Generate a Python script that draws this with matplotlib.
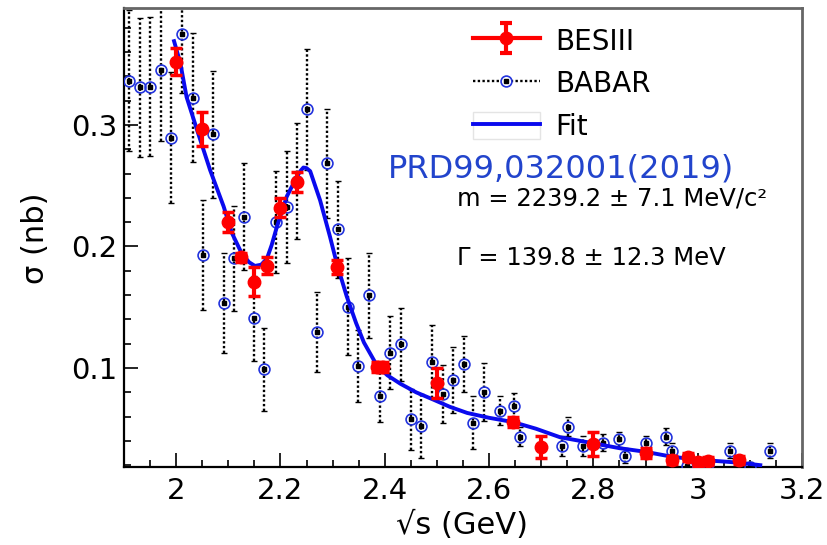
import numpy as np
import matplotlib
matplotlib.use("Agg")
import matplotlib.pyplot as plt
from matplotlib.lines import Line2D
from matplotlib.patches import Rectangle
from matplotlib.path import Path
from matplotlib.legend_handler import HandlerTuple

plt.rcParams['font.family'] = ['DejaVu Sans']

# BESIII points
bes_x = [2.000, 2.050, 2.100, 2.125, 2.150, 2.175, 2.200, 2.232, 2.309, 2.386, 2.396,
         2.500, 2.645, 2.700, 2.800, 2.900, 2.950, 2.981, 3.000, 3.020, 3.080]
bes_y = [0.352, 0.297, 0.220, 0.191, 0.171, 0.184, 0.232, 0.253, 0.183, 0.101, 0.101,
         0.0877, 0.0556, 0.035, 0.0375, 0.030, 0.0243, 0.0267, 0.0226, 0.0235, 0.0243]
bes_err = [0.011, 0.014, 0.008, 0.004, 0.012, 0.007, 0.008, 0.008, 0.006, 0.004, 0.004,
           0.012, 0.004, 0.009, 0.010, 0.004, 0.003, 0.003, 0.003, 0.003, 0.003]

# BABAR points
babar_x = [1.910, 1.930, 1.950, 1.971, 1.990, 2.011, 2.032, 2.051, 2.071, 2.091,
           2.110, 2.130, 2.150, 2.169, 2.191, 2.212, 2.231, 2.250, 2.270, 2.290,
           2.311, 2.329, 2.349, 2.370, 2.391, 2.410, 2.431, 2.450, 2.469, 2.490,
           2.512, 2.531, 2.551, 2.570, 2.590, 2.621, 2.648, 2.659, 2.740, 2.752,
           2.780, 2.819, 2.850, 2.861, 2.900, 2.939, 2.950, 2.979, 3.020, 3.061,
           3.100, 3.139]
babar_y = [0.3365, 0.331, 0.3315, 0.345, 0.2895, 0.3746, 0.3225, 0.193, 0.2923, 0.1537,
           0.1903, 0.2245, 0.1409, 0.0989, 0.2204, 0.2323, 0.254, 0.3129, 0.1299, 0.2685,
           0.2142, 0.1505, 0.1016, 0.160, 0.0772, 0.1126, 0.1195, 0.0578, 0.0523, 0.1052,
           0.0784, 0.0901, 0.1030, 0.055, 0.0805, 0.0649, 0.0687, 0.0435, 0.0358, 0.0517,
           0.0358, 0.0385, 0.0413, 0.0278, 0.0380, 0.0434, 0.0319, 0.0196, 0.0210, 0.0319,
           0.0188, 0.0319]
babar_err = [0.058, 0.057, 0.057, 0.058, 0.054, 0.048, 0.053, 0.045, 0.052, 0.041,
             0.043, 0.044, 0.035, 0.034, 0.042, 0.046, 0.048, 0.05, 0.033, 0.045,
             0.04, 0.04, 0.03, 0.035, 0.022, 0.03, 0.03, 0.025, 0.026, 0.03,
             0.024, 0.027, 0.023, 0.022, 0.024, 0.012, 0.011, 0.008, 0.008, 0.008,
             0.008, 0.007, 0.006, 0.006, 0.006, 0.007, 0.006, 0.005, 0.005, 0.006,
             0.004, 0.006]

# fit curve
fit_x = [1.996, 2.008, 2.020, 2.040, 2.065, 2.091, 2.107, 2.126, 2.140, 2.151, 2.163,
         2.174, 2.183, 2.193, 2.212, 2.231, 2.238, 2.244, 2.250, 2.257, 2.276, 2.295,
         2.308, 2.327, 2.345, 2.360, 2.385, 2.405, 2.430, 2.460, 2.493, 2.525, 2.558,
         2.600, 2.646, 2.690, 2.736, 2.800, 2.850, 2.900, 2.950, 3.000, 3.050, 3.080, 3.120]
fit_y = [0.369, 0.351, 0.323, 0.296, 0.263, 0.233, 0.211, 0.194, 0.187, 0.184, 0.185,
         0.190, 0.201, 0.216, 0.241, 0.257, 0.262, 0.265, 0.2645, 0.262, 0.238, 0.208,
         0.186, 0.159, 0.137, 0.121, 0.102, 0.094, 0.087, 0.080, 0.074, 0.068, 0.063,
         0.059, 0.0555, 0.050, 0.043, 0.038, 0.034, 0.031, 0.027, 0.0245, 0.023, 0.022, 0.020]

xticks = [2.0, 2.2, 2.4, 2.6, 2.8, 3.0, 3.2]
xlabels = ['2', '2.2', '2.4', '2.6', '2.8', '3', '3.2']
yticks = [0.1, 0.2, 0.3]
ylabels = ['0.1', '0.2', '0.3']

fig = plt.figure(figsize=(8.27, 5.45), dpi=100)
ax = fig.add_axes([124/827, 1-467/545, (802-124)/827, (467-8)/545])

dot = (0, (1, 1))

# BABAR
eb = ax.errorbar(babar_x, babar_y, yerr=babar_err, fmt='none', ecolor='black',
                 elinewidth=1.7, capsize=2.5, capthick=1.0, zorder=2)
eb[2][0].set_linestyle(dot)
ax.plot(babar_x, babar_y, 'o', ms=7.8, mfc='none', mec='#2233dd', mew=1.2, zorder=3)
ax.plot(babar_x, babar_y, 's', ms=2.2, color='black', zorder=3)

# fit
ax.plot(fit_x, fit_y, '-', color='#0a0aee', lw=2.8, zorder=4)

# BESIII
ax.errorbar(bes_x, bes_y, yerr=bes_err, fmt='o', color='#ff0000', ms=9,
            elinewidth=3, capsize=4, capthick=2.5, zorder=5)

ax.set_xlim(1.9, 3.2)
ax.set_ylim(0.0185, 0.3963)
ax.set_xticks(xticks)
ax.set_xticklabels(xlabels)
ax.set_xticks(np.arange(1.95, 3.2, 0.05), minor=True)
ax.set_yticks(yticks)
ax.set_yticklabels(ylabels)
ax.set_yticks(np.arange(0.02, 0.39, 0.02), minor=True)
ax.tick_params(which='both', direction='in', top=False, right=False, width=1.2)
ax.tick_params(which='major', length=10, labelsize=21)
ax.tick_params(axis='x', which='major', pad=7)
ax.tick_params(axis='y', which='major', pad=5)
ax.tick_params(which='minor', length=5)
for s in ['left', 'bottom']:
    ax.spines[s].set_linewidth(1.6)
    ax.spines[s].set_color('black')
for s in ['top', 'right']:
    ax.spines[s].set_linewidth(2.0)
    ax.spines[s].set_color('#666666')

fig.text(35/827, 1-238/545, 'σ (nb)', rotation=90, ha='center', va='center', fontsize=22)
fig.text(462/827, 1-525/545, '√s (GeV)', ha='center', va='center', fontsize=22)

# legend
ibeam = Path([(-0.4, 1), (0.4, 1), (0, 1), (0, -1), (-0.4, -1), (0.4, -1)],
             [Path.MOVETO, Path.LINETO, Path.MOVETO, Path.LINETO, Path.MOVETO, Path.LINETO])
h_bes = (Line2D([], [], color='#ff0000', lw=3),
         Line2D([], [], ls='none', marker=ibeam, ms=22, mec='#ff0000', mew=3),
         Line2D([], [], ls='none', marker='o', ms=9, color='#ff0000'))
h_bab = (Line2D([], [], color='black', lw=1.7, ls=dot),
         Line2D([], [], ls='none', marker='o', ms=7.8, mfc='white', mec='#2233dd', mew=1.2),
         Line2D([], [], ls='none', marker='s', ms=2.2, color='black'))
h_fit = (Rectangle((0, 0), 1, 1, facecolor='none', edgecolor='#e4e4e4', lw=1),
         Line2D([], [], color='#0a0aee', lw=2.8))
fig.legend([h_bes, h_bab, h_fit], ['BESIII', 'BABAR', 'Fit'],
           handler_map={tuple: HandlerTuple(ndivide=1)},
           loc='upper left', bbox_to_anchor=(473/827, 1-27/545),
           bbox_transform=fig.transFigure, frameon=False, fontsize=20,
           borderpad=0, borderaxespad=0, handlelength=2.4, handletextpad=0.55,
           labelspacing=0.5, handleheight=1.1)

fig.text(388/827, 1-178/545, 'PRD99,032001(2019)', color='#2244cc', fontsize=23,
         ha='left', va='baseline')
fig.text(457/827, 1-205/545, 'm = 2239.2 ± 7.1 MeV/c²', fontsize=17.5, ha='left', va='baseline')
fig.text(457/827, 1-265/545, 'Γ = 139.8 ± 12.3 MeV', fontsize=17.5, ha='left', va='baseline')

fig.savefig('out.png', dpi=100)
